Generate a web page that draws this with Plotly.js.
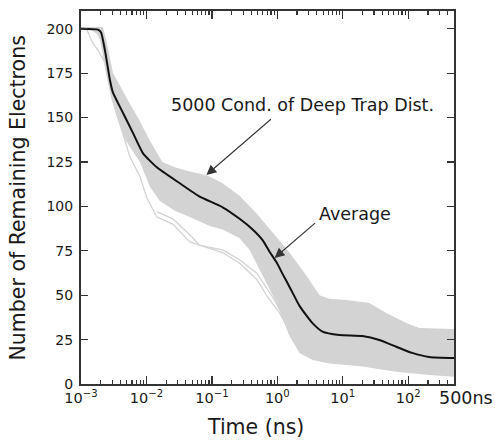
<!DOCTYPE html>
<html>
<head>
<meta charset="utf-8">
<script src="https://cdn.plot.ly/plotly-3.0.1.min.js"></script>
<style>html,body{margin:0;padding:0;background:#fff}#chart{width:495px;height:445px}</style>
</head>
<body>
<div id="chart"></div>
<script>
// Average curve
var avgTime  = [0.001, 0.00182, 0.00202, 0.00232, 0.00277, 0.00308, 0.00437, 0.00621, 0.00881, 0.0144, 0.0323, 0.0652, 0.146, 0.265, 0.419, 0.595, 0.76, 0.972, 1.2, 1.53, 2.18, 2.79, 3.44, 4.89, 8.87, 19.9, 36.1, 65.6, 115, 209, 500];
var avgCount = [200, 199.5, 198, 188, 171, 164, 152.7, 141.4, 130, 122, 113, 105.5, 99.5, 93, 87, 81, 74.5, 68.5, 62, 54.8, 44, 38.5, 34.3, 29.5, 27.6, 27, 24.8, 21, 17.5, 15.2, 14.6];

// Envelope of the 5000 conditions (upper edge)
var upperTime  = [0.001, 0.00216, 0.00249, 0.00308, 0.00394, 0.00514, 0.0074, 0.0113, 0.0175, 0.0271, 0.0459, 0.0834, 0.146, 0.265, 0.482, 0.845, 1.53, 2.79, 4.4, 6.25, 11.4, 25.4, 46.3, 93.3, 147, 500];
var upperCount = [201, 201, 192, 175, 168, 160, 150, 137, 125, 122, 119.6, 117.5, 113, 106, 96, 85, 74, 61, 50, 48, 47.3, 45.6, 40, 34.3, 31.5, 31];

// Envelope of the 5000 conditions (lower edge)
var lowerTime  = [0.001, 0.00147, 0.00175, 0.00195, 0.00241, 0.00297, 0.00354, 0.00485, 0.00793, 0.0113, 0.016, 0.0271, 0.0459, 0.0925, 0.146, 0.265, 0.377, 0.482, 0.684, 0.972, 1.24, 1.53, 2.18, 3.44, 6.25, 19.9, 65.6, 209, 500];
var lowerCount = [199.5, 199, 197, 194, 175, 160, 150, 137, 125, 111, 103, 97.5, 94, 89, 87, 82, 75.5, 68, 56.7, 45.6, 36, 27, 17.5, 13.5, 11.6, 9.8, 6.9, 5, 4.1];

// Two outlying conditions
var outATime  = [0.001, 0.00123, 0.00151, 0.00181, 0.00232, 0.00297, 0.00394, 0.00558, 0.00793, 0.0101, 0.0144, 0.0252, 0.0459, 0.146, 0.265, 0.482, 0.709, 1.08, 1.53];
var outACount = [200, 199.5, 192, 188, 181, 161, 146, 128, 117, 105, 94, 90, 80, 74, 68, 59, 49, 40, 30];
var outBTime  = [0.0144, 0.0252, 0.0459, 0.0652, 0.146, 0.265, 0.482, 0.845, 1.16];
var outBCount = [97, 93, 84, 78, 75.5, 70, 62.5, 49, 40];

// Axis ticks
var xTickVals = [0.001, 0.01, 0.1, 1, 10, 100];
var xTickText = ["10<sup>\u22123</sup>", "10<sup>\u22122</sup>", "10<sup>\u22121</sup>", "10<sup>0</sup>", "10<sup>1</sup>", "10<sup>2</sup>"];
var yTickVals = [0, 25, 50, 75, 100, 125, 150, 175, 200];

var xMinor = [];
for (var d = -3; d <= 2; d++) {
  for (var m = 2; m <= 9; m++) {
    var v = m * Math.pow(10, d);
    if (v < 500) xMinor.push(v);
  }
}

var FONT = "DejaVu Sans, Verdana, sans-serif";
var band = "#d3d3d3";
var TXT = "#1a1a1a";

var traces = [
  {x: lowerTime, y: lowerCount, mode: "lines", line: {width: 0, color: band}, hoverinfo: "skip", showlegend: false},
  {x: upperTime, y: upperCount, mode: "lines", line: {width: 0, color: band}, fill: "tonexty", fillcolor: band, hoverinfo: "skip", showlegend: false},
  {x: outATime, y: outACount, mode: "lines", line: {width: 1.3, color: band}, showlegend: false},
  {x: outBTime, y: outBCount, mode: "lines", line: {width: 1.3, color: band}, showlegend: false},
  {x: avgTime, y: avgCount, mode: "lines", line: {width: 2, color: "#111", shape: "spline", smoothing: 0.5}, showlegend: false}
];

var layout = {
  width: 495, height: 445,
  margin: {l: 81, r: 41, t: 11, b: 61},
  paper_bgcolor: "#fff", plot_bgcolor: "#fff",
  font: {family: FONT, color: TXT, size: 14},
  showlegend: false,
  xaxis: {
    type: "log", range: [-3, Math.log10(500)],
    tickmode: "array", tickvals: xTickVals, ticktext: xTickText,
    ticks: "inside", ticklen: 8, tickwidth: 1.3, tickcolor: "#333",
    minor: {tickmode: "array", tickvals: xMinor, ticks: "inside", ticklen: 4, tickwidth: 1.2, tickcolor: "#333", showgrid: false},
    showline: true, linewidth: 2, linecolor: "#333", mirror: "ticks",
    showgrid: false, zeroline: false,
    tickfont: {size: 14.5, family: FONT, color: TXT}
  },
  yaxis: {
    range: [0, 210],
    tickmode: "array", tickvals: yTickVals,
    ticks: "inside", ticklen: 7, tickwidth: 1.3, tickcolor: "#333",
    showline: true, linewidth: 2, linecolor: "#333", mirror: "ticks",
    showgrid: false, zeroline: false,
    ticklabelstandoff: 3,
    tickfont: {size: 14, family: FONT, color: TXT}
  },
  annotations: [
    {xref: "x", yref: "y", x: 0.384, y: 157, text: "5000 Cond. of Deep Trap Dist.", showarrow: false, font: {size: 17.5, family: FONT, color: TXT}},
    {xref: "x", yref: "y", x: -1.084, y: 117.7, text: "", showarrow: true, ax: 66, ay: -57, arrowhead: 2, arrowsize: 1.8, arrowwidth: 1.1, arrowcolor: "#333", standoff: 0},
    {xref: "x", yref: "y", x: 1.192, y: 95.8, text: "Average", showarrow: false, font: {size: 17.5, family: FONT, color: TXT}},
    {xref: "x", yref: "y", x: -0.043, y: 71, text: "", showarrow: true, ax: 42, ay: -36, arrowhead: 2, arrowsize: 1.8, arrowwidth: 1.1, arrowcolor: "#333", standoff: 0},
    {xref: "paper", yref: "paper", x: 1, y: 0, xanchor: "center", yanchor: "middle", xshift: 12, yshift: -14, text: "500ns", showarrow: false, font: {size: 17.5, family: FONT, color: TXT}},
    {xref: "paper", yref: "paper", x: 0.469, y: 0, xanchor: "center", yanchor: "middle", yshift: -43, text: "Time (ns)", showarrow: false, font: {size: 20.5, family: FONT, color: TXT}},
    {xref: "paper", yref: "paper", x: -0.169, y: 0.5, xanchor: "center", yanchor: "middle", textangle: -90, text: "Number of Remaining Electrons", showarrow: false, font: {size: 20.5, family: FONT, color: TXT}}
  ]
};

Plotly.newPlot("chart", traces, layout, {displayModeBar: false, staticPlot: true});
</script>
</body>
</html>
